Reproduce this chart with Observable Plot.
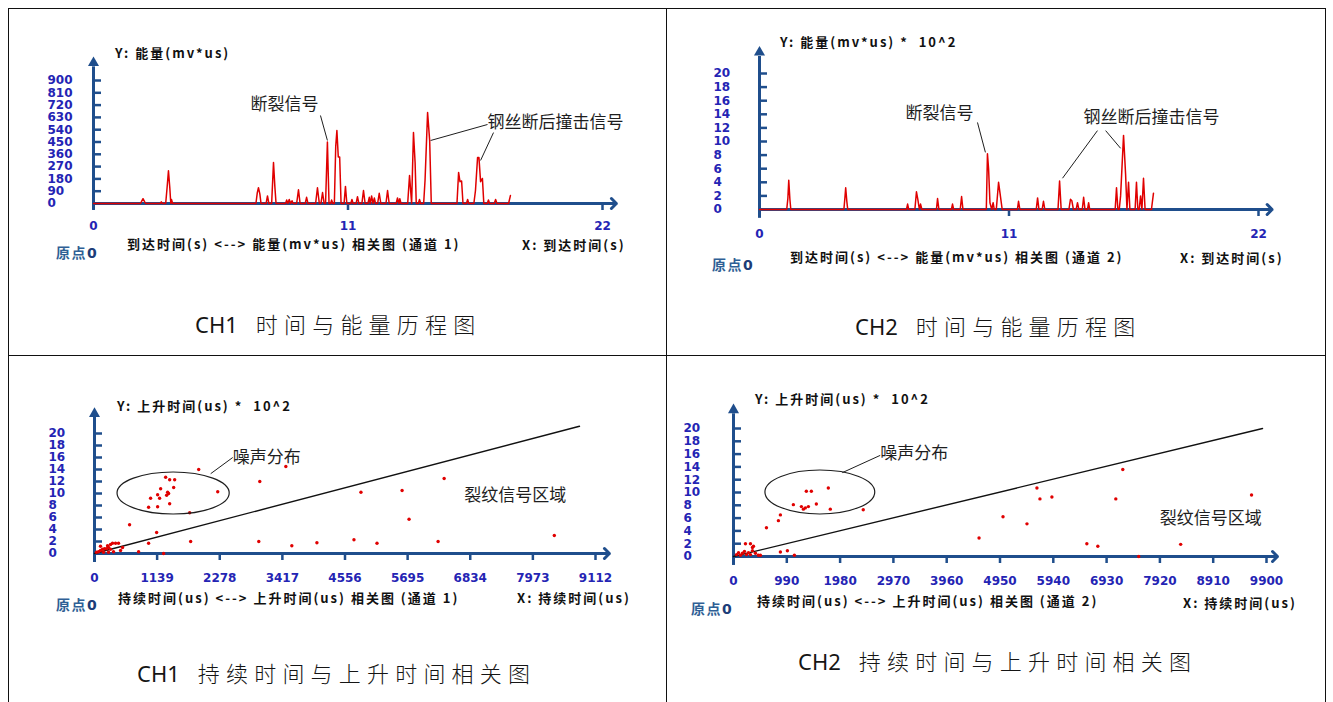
<!DOCTYPE html>
<html><head><meta charset="utf-8">
<script src="https://cdn.jsdelivr.net/npm/d3@7"></script>
<script src="https://cdn.jsdelivr.net/npm/@observablehq/plot@0.6"></script>
<style>
body{margin:0;background:#fff;}
#page{position:relative;width:1333px;height:702px;overflow:hidden;background:#fff;font-family:"Noto Sans CJK SC","Noto Sans",sans-serif;}
.bl{position:absolute;background:#111;}
.lbl{position:absolute;white-space:nowrap;font-weight:700;font-size:13px;letter-spacing:2px;color:#111;line-height:1;transform:translateY(-50%);}
.org{position:absolute;white-space:nowrap;font-weight:700;font-size:14px;letter-spacing:1.5px;line-height:1;transform:translateY(-50%);color:#2f5f95;}
.org b{color:#1c3d78;font-family:"DejaVu Sans",sans-serif;}
.cap{position:absolute;white-space:nowrap;font-size:22px;font-weight:300;color:#151515;line-height:1;transform:translateY(-50%);}
.cap .en{font-family:"Noto Sans",sans-serif;font-weight:400;}
.cap .zh{letter-spacing:6.2px;margin-left:18px;}
.box{position:absolute;}
</style>
</head><body><div id="page"></div>
<script>
// ---------- data ----------
const timeTicks = [0, 11, 22];
const ch1EnergyTicks = [0, 90, 180, 270, 360, 450, 540, 630, 720, 810, 900];
const ch2EnergyTicks = [0, 2, 4, 6, 8, 10, 12, 14, 16, 18, 20];
const riseTicks = [0, 2, 4, 6, 8, 10, 12, 14, 16, 18, 20];
const ch1DurationTicks = [0, 1139, 2278, 3417, 4556, 5695, 6834, 7973, 9112];
const ch2DurationTicks = [0, 990, 1980, 2970, 3960, 4950, 5940, 6930, 7920, 8910, 9900];

// [arrival time (s), energy (mv*us)]
const ch1Signal = [
  [0,0],
  [2.03,0],[2.14,35],[2.25,0],
  [2.88,0],[2.93,12],[2.98,0],
  [3.12,0],[3.18,115],[3.24,240],[3.30,110],[3.34,0],[3.37,30],[3.42,0],
  [7.02,0],[7.08,80],[7.13,115],[7.19,70],[7.24,0],
  [7.46,0],[7.52,55],[7.58,0],
  [7.70,0],[7.78,300],[7.84,120],[7.89,0],
  [8.30,0],[8.35,25],[8.40,0],[8.46,30],[8.52,0],[8.58,20],[8.63,0],
  [8.78,0],[8.86,100],[8.93,0],
  [9.15,0],[9.21,45],[9.27,0],
  [9.60,0],[9.68,115],[9.76,0],
  [9.83,0],[9.90,80],[9.97,0],
  [10.03,0],[10.11,450],[10.18,0],
  [10.25,0],[10.29,25],[10.34,0],
  [10.41,0],[10.47,420],[10.52,534],[10.58,340],[10.64,340],[10.70,0],
  [10.83,0],[10.89,125],[10.95,0],
  [11.12,0],[11.17,30],[11.22,0],
  [11.35,0],[11.41,50],[11.47,0],
  [11.60,0],[11.67,95],[11.74,0],
  [11.86,0],[11.92,45],[11.97,0],[12.02,55],[12.08,0],[12.14,40],[12.19,0],
  [12.28,0],[12.35,75],[12.42,0],
  [12.64,0],[12.71,95],[12.78,0],
  [13.08,0],[13.14,40],[13.20,0],[13.24,35],[13.29,0],
  [13.58,0],[13.66,205],[13.75,0],[13.83,520],[13.90,300],[13.95,0],
  [14.04,0],[14.09,30],[14.14,0],
  [14.27,0],[14.33,170],[14.44,665],[14.53,460],[14.60,0],
  [15.71,0],[15.78,227],[15.84,160],[15.91,165],[15.97,0],
  [16.12,0],[16.17,30],[16.22,0],
  [16.44,0],[16.51,95],[16.60,336],[16.66,336],[16.73,160],[16.81,183],[16.87,0],
  [17.02,0],[17.07,25],[17.12,0],
  [17.32,0],[17.38,30],[17.44,0],
  [17.94,0],[18.02,58]
];
// [arrival time (s), energy (mv*us) x 10^2]
const ch2Signal = [
  [0,0],
  [1.20,0],[1.25,1.6],[1.29,4.3],[1.34,1.5],[1.38,0],
  [3.72,0],[3.76,1.5],[3.80,3.2],[3.85,1.2],[3.89,0],
  [6.48,0],[6.53,0.8],[6.58,0],
  [6.85,0],[6.92,2.6],[6.98,1.5],[7.05,0],[7.10,0.8],[7.16,0],
  [7.80,0],[7.85,1.6],[7.91,0],
  [8.46,0],[8.51,0.8],[8.56,0],
  [8.85,0],[8.91,1.9],[8.97,0],
  [10.00,0],[10.05,8.2],[10.10,6.0],[10.16,1.0],[10.24,0],[10.30,1.0],[10.35,0],
  [10.44,0],[10.54,4.0],[10.62,2.0],[10.70,0],
  [11.37,0],[11.42,1.2],[11.48,0],
  [12.20,0],[12.26,1.7],[12.32,0],[12.46,0],[12.52,1.2],[12.58,0],
  [13.16,0],[13.23,4.2],[13.30,0],
  [13.64,0],[13.71,1.5],[13.77,1.3],[13.84,0],[13.96,0],[14.02,1.0],[14.08,0],
  [14.23,0],[14.29,1.8],[14.35,0],[14.46,0],[14.51,1.0],[14.56,0],
  [15.68,0],[15.74,3.2],[15.80,0],[15.86,0],[15.92,2.0],[16.05,10.9],[16.14,5.2],[16.20,0],[16.27,4.0],[16.33,0],
  [16.56,0],[16.62,4.0],[16.68,0],[16.74,0],[16.80,2.0],[16.86,0],[16.93,4.6],[17.00,0],
  [17.28,0],[17.37,2.4]
];
// [duration (us), rise time (us) x 10^2]
const ch1Events = [
  [1895,14.0],[1294,12.7],[1367,12.3],[1458,12.3],[1440,11.0],[1203,10.8],[1148,9.8],[1330,10.2],
  [1348,10.0],[1312,9.7],[1020,9.2],[1184,9.2],[984,7.7],[1148,7.8],[1367,8.3],[2241,10.3],
  [1731,6.8],[638,4.8],[1130,3.5],[984,1.7],[1749,2.0],[802,0.3],[1257,0.0],[3006,12.0],
  [3480,14.5],[2988,2.0],[3589,1.3],[4045,1.8],
  [36,0.2],[73,0.3],[109,0.5],[146,0.7],[182,0.8],[219,0.8],[255,1.0],[292,0.7],[237,1.3],
  [292,1.5],[328,1.7],[383,1.7],[437,1.7],[109,1.2],[164,0.2],[255,0.2],[346,0.3],[510,1.0],[474,0.5],
  [4846,10.2],[5594,10.5],[6359,12.5],[5721,5.7],[4719,2.3],[5138,1.7],[6249,2.0],[8363,3.0]
];
const ch2Events = [
  [1353,10.2],[1446,10.2],[1761,10.7],[1112,8.1],[1261,7.8],[1298,7.4],[1335,7.6],[1391,7.8],
  [1539,8.2],[1798,7.4],[2410,7.3],[871,6.5],[834,5.6],[612,4.5],[222,2.0],[315,2.0],[352,1.4],
  [871,0.7],[1001,0.9],[1131,0.2],[500,0.2],[4561,2.9],
  [56,0.3],[93,0.6],[130,0.2],[167,0.5],[204,0.8],[241,0.3],[278,0.6],[315,0.3],[352,0.9],
  [408,0.5],[463,0.2],[371,1.6],
  [5006,6.2],[5451,5.1],[5636,10.7],[5692,9.0],[5914,9.3],[7231,13.6],[7101,9.0],[6563,2.0],
  [6767,1.6],[7527,0.0],[8306,1.9],[9622,9.6]
];
const ch1Boundary = [[0,0],[8820,21.2]];
const ch2Boundary = [[0,0],[9826,20.0]];

// ---------- styles ----------
const AXIS = "#1f4e8c", TICKLBL = "#2424b4", RED = "#e00000", INK = "#1e1e1e";
const page = document.getElementById("page");

function addDiv(cls, x, y, html, extra) {
  const d = document.createElement("div");
  d.className = cls; d.style.left = x + "px"; d.style.top = y + "px"; d.innerHTML = html;
  if (extra) Object.assign(d.style, extra);
  page.appendChild(d);
}

function panel(cfg) {
  const mL = cfg.px0 - cfg.left, mR = cfg.left + cfg.w - cfg.px1;
  const mT = cfg.py1 - cfg.top, mB = cfg.top + cfg.h - cfg.py0;
  const marks = [
    Plot.ruleX([0], {y1: cfg.yLow, y2: cfg.yLine, stroke: AXIS, strokeWidth: 3}),
    Plot.dot([{x: 0, y: cfg.yArrow}], {x: "x", y: "y", symbol: "triangle", r: 4.1, fill: AXIS, stroke: null}),
    Plot.arrow([{x1: 0, x2: cfg.xEnd, y1: 0, y2: 0}], {x1: "x1", x2: "x2", y1: "y1", y2: "y2", stroke: AXIS, strokeWidth: 3, headLength: 3.5, headAngle: 90}),
    Plot.axisY(cfg.yTicks, {anchor: "left", label: null, tickSize: -8, tickPadding: cfg.yPad, textAnchor: "start",
      stroke: AXIS, strokeWidth: 2.5, fill: TICKLBL, fontWeight: "bold", fontSize: 12, fontFamily: "DejaVu Sans", tickFormat: d => String(d)}),
    Plot.axisX(cfg.xTicks, {anchor: "bottom", label: null, tickSize: 7, tickPadding: cfg.xPad,
      stroke: AXIS, strokeWidth: 2.5, fill: TICKLBL, fontWeight: "bold", fontSize: 12, fontFamily: "DejaVu Sans", tickFormat: d => String(d)}),
    ...cfg.dataMarks,
    Plot.link(cfg.leaders, {x1: d => d[0], y1: d => d[1], x2: d => d[2], y2: d => d[3], stroke: INK, strokeWidth: 1}),
    Plot.text(cfg.notes, {x: "x", y: "y", text: "text", textAnchor: "start", lineAnchor: "middle",
      fontSize: 17, fontFamily: "Noto Sans CJK SC", fill: INK})
  ];
  const svg = Plot.plot({
    width: cfg.w, height: cfg.h,
    marginLeft: mL, marginRight: mR, marginTop: mT, marginBottom: mB,
    x: {domain: cfg.xDomain}, y: {domain: cfg.yDomain},
    style: {background: "transparent", overflow: "visible"},
    marks
  });
  if (cfg.ellipse) {
    const e = cfg.ellipse, sx = svg.scale("x"), sy = svg.scale("y");
    const cx = sx.apply(e.cx), cy = sy.apply(e.cy);
    d3.select(svg).append("ellipse")
      .attr("cx", cx).attr("cy", cy)
      .attr("rx", Math.abs(sx.apply(e.cx + e.rx) - cx))
      .attr("ry", Math.abs(sy.apply(e.cy + e.ry) - cy))
      .attr("fill", "none").attr("stroke", INK).attr("stroke-width", 1.2);
  }
  const box = document.createElement("div");
  box.className = "box"; box.style.left = cfg.left + "px"; box.style.top = cfg.top + "px";
  box.appendChild(svg);
  page.appendChild(box);
}

const lineMark = (data) => Plot.line(data, {x: d => d[0], y: d => d[1], stroke: RED, strokeWidth: 1.5});
const dotMark = (data) => Plot.dot(data, {x: d => d[0], y: d => d[1], r: 1.7, fill: RED, stroke: null});
const bndMark = (data) => Plot.line(data, {x: d => d[0], y: d => d[1], stroke: "#111", strokeWidth: 1.4});

panel({left: 9, top: 9, w: 656, h: 345, px0: 93, px1: 602, py0: 203, py1: 80,
  xDomain: [0, 22], yDomain: [0, 900], xTicks: timeTicks, yTicks: ch1EnergyTicks,
  yLow: -50, yLine: 1000, yArrow: 1029, xEnd: 22.6, yPad: 54, xPad: 11,
  dataMarks: [lineMark(ch1Signal)],
  notes: [{x: 6.79, y: 724, text: "断裂信号"}, {x: 17.03, y: 593, text: "钢丝断后撞击信号"}],
  leaders: [[9.81, 644, 10.11, 461], [17.03, 578, 14.57, 461], [17.29, 519, 16.73, 315]]
});
panel({left: 667, top: 9, w: 657, h: 345, px0: 759, px1: 1258, py0: 209, py1: 73,
  xDomain: [0, 22], yDomain: [0, 20], xTicks: timeTicks, yTicks: ch2EnergyTicks,
  yLow: -1.3, yLine: 22.5, yArrow: 23.1, xEnd: 22.6, yPad: 54, xPad: 13,
  dataMarks: [lineMark(ch2Signal)],
  notes: [{x: 6.44, y: 14.1, text: "断裂信号"}, {x: 14.29, y: 13.5, text: "钢丝断后撞击信号"}],
  leaders: [[9.61, 12.8, 9.96, 8.4], [14.90, 11.6, 13.36, 4.6], [15.26, 11.6, 15.92, 9.0]]
});
panel({left: 9, top: 356, w: 656, h: 346, px0: 94, px1: 595, py0: 553, py1: 433,
  xDomain: [0, 9112], yDomain: [0, 20], xTicks: ch1DurationTicks, yTicks: riseTicks,
  yLow: -1.5, yLine: 22.7, yArrow: 23.3, xEnd: 9365, yPad: 54, xPad: 13,
  dataMarks: [bndMark(ch1Boundary), dotMark(ch1Events)],
  notes: [{x: 2514, y: 16.0, text: "噪声分布"}, {x: 6723, y: 9.7, text: "裂纹信号区域"}],
  leaders: [[2113, 13.3, 2514, 16.0]],
  ellipse: {cx: 1439, cy: 10, rx: 1020, ry: 3.5}
});
panel({left: 667, top: 356, w: 657, h: 346, px0: 733, px1: 1266, py0: 556, py1: 428,
  xDomain: [0, 9900], yDomain: [0, 20], xTicks: ch2DurationTicks, yTicks: riseTicks,
  yLow: -1.4, yLine: 22.3, yArrow: 22.9, xEnd: 10104, yPad: 58, xPad: 13,
  dataMarks: [bndMark(ch2Boundary), dotMark(ch2Events)],
  notes: [{x: 2725, y: 16.1, text: "噪声分布"}, {x: 7917, y: 5.9, text: "裂纹信号区域"}],
  leaders: [[2021, 13.1, 2725, 15.8]],
  ellipse: {cx: 1613, cy: 10, rx: 1020, ry: 3.44}
});

// axis titles
addDiv("lbl", 115, 52, "Y: 能量(mv*us)");
addDiv("lbl", 127, 243, "到达时间(s) &lt;--&gt; 能量(mv*us) 相关图 (通道 1)");
addDiv("lbl", 522, 244, "X: 到达时间(s)");
addDiv("org", 56, 252, "原点<b>0</b>");
addDiv("lbl", 780, 41, "Y: 能量(mv*us) *&nbsp; 10^2");
addDiv("lbl", 790, 256, "到达时间(s) &lt;--&gt; 能量(mv*us) 相关图 (通道 2)");
addDiv("lbl", 1180, 257, "X: 到达时间(s)");
addDiv("org", 712, 264, "原点<b>0</b>");
addDiv("lbl", 117, 405, "Y: 上升时间(us) *&nbsp; 10^2");
addDiv("lbl", 118, 597, "持续时间(us) &lt;--&gt; 上升时间(us) 相关图 (通道 1)");
addDiv("lbl", 517, 597, "X: 持续时间(us)");
addDiv("org", 56, 604, "原点<b>0</b>");
addDiv("lbl", 755, 398, "Y: 上升时间(us) *&nbsp; 10^2");
addDiv("lbl", 757, 600, "持续时间(us) &lt;--&gt; 上升时间(us) 相关图 (通道 2)");
addDiv("lbl", 1183, 602, "X: 持续时间(us)");
addDiv("org", 691, 608, "原点<b>0</b>");

// captions
addDiv("cap", 195, 323, '<span class="en">CH1</span><span class="zh">时间与能量历程图</span>');
addDiv("cap", 855, 325, '<span class="en">CH2</span><span class="zh">时间与能量历程图</span>');
addDiv("cap", 137, 672, '<span class="en">CH1</span><span class="zh">持续时间与上升时间相关图</span>');
addDiv("cap", 798, 660, '<span class="en">CH2</span><span class="zh">持续时间与上升时间相关图</span>');

// table borders
addDiv("bl", 8, 8, "", {width: "1318px", height: "1px"});
addDiv("bl", 8, 355, "", {width: "1318px", height: "1px"});
addDiv("bl", 8, 8, "", {width: "1px", height: "694px"});
addDiv("bl", 666, 8, "", {width: "1px", height: "694px"});
addDiv("bl", 1325, 8, "", {width: "1px", height: "694px"});
</script>
</body></html>
